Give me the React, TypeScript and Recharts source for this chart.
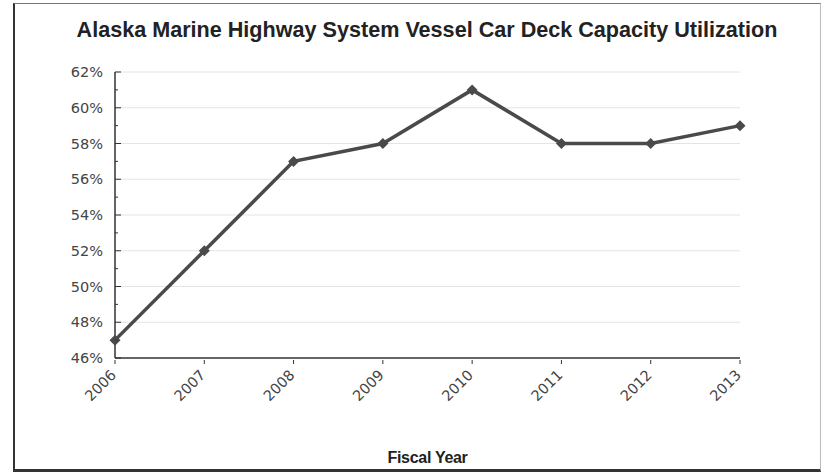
import { LineChart, Line, XAxis, YAxis, CartesianGrid, ReferenceLine } from 'recharts'

const years = ['2006', '2007', '2008', '2009', '2010', '2011', '2012', '2013']
const utilization = [47, 52, 57, 58, 61, 58, 58, 59]
const yTicks = [46, 47, 48, 49, 50, 51, 52, 53, 54, 55, 56, 57, 58, 59, 60, 61, 62]
const gridValues = [48, 50, 52, 54, 56, 58, 60, 62]

const data = years.map((year, i) => ({ year, value: utilization[i] }))

const tickFont = 'DejaVu Sans, Verdana, sans-serif'

const YTick = (props: any) => {
  const { x, y, payload } = props
  const major = payload.value % 2 === 0
  return (
    <g>
      <line x1={x} x2={x + (major ? 6 : 3)} y1={y} y2={y} stroke="#333" strokeWidth={1} />
      {major && (
        <text x={x - 12} y={y} dy={5} textAnchor="end" fontSize={14.5} fill="#444" fontFamily={tickFont}>
          {payload.value}%
        </text>
      )}
    </g>
  )
}

const XTick = (props: any) => {
  const { x, y, payload } = props
  return (
    <g>
      <line x1={x} x2={x} y1={y} y2={y + 4} stroke="#333" strokeWidth={1} />
      <text
        x={x + 2}
        y={y + 16}
        textAnchor="end"
        fontSize={14.5}
        fill="#444"
        fontFamily={tickFont}
        transform={`rotate(-45, ${x + 2}, ${y + 16})`}
      >
        {payload.value}
      </text>
    </g>
  )
}

const Diamond = (props: any) => {
  const { cx, cy } = props
  if (cx == null || cy == null) return null
  const r = 5.5
  return <polygon points={`${cx},${cy - r} ${cx + r},${cy} ${cx},${cy + r} ${cx - r},${cy}`} fill="#4a4a4a" />
}

export default function App() {
  return (
    <div style={{ position: 'fixed', left: 0, top: 0, width: 825, height: 473, background: '#fff' }}>
      <div
        style={{
          position: 'absolute',
          left: 13,
          top: 3,
          width: 805,
          height: 465,
          borderLeft: '2px solid #333',
          borderTop: '1px solid #777',
          borderRight: '1px solid #bbb',
          borderBottom: '3px solid #333',
        }}
      />
      <div
        style={{
          position: 'absolute',
          left: 0,
          top: 17,
          width: 854,
          textAlign: 'center',
          fontFamily: 'Liberation Sans, Arial, sans-serif',
          fontWeight: 'bold',
          fontSize: 21.6,
          color: '#222',
          whiteSpace: 'nowrap',
        }}
      >
        Alaska Marine Highway System Vessel Car Deck Capacity Utilization
      </div>
      <LineChart width={825} height={473} data={data} margin={{ top: 72, right: 85, left: 55, bottom: 5 }}>
        <CartesianGrid horizontal={false} vertical={false} />
        {gridValues.map((v) => (
          <ReferenceLine key={v} y={v} stroke="#e4e4e4" strokeWidth={1} />
        ))}
        <XAxis
          dataKey="year"
          height={110}
          tickSize={0}
          tickLine={false}
          tick={<XTick />}
          interval={0}
          axisLine={{ stroke: '#333', strokeWidth: 1.5 }}
          label={{
            value: 'Fiscal Year',
            position: 'insideBottom',
            offset: 5,
            fontSize: 16,
            fontWeight: 'bold',
            fill: '#222',
            letterSpacing: -0.3,
            fontFamily: 'Liberation Sans, Arial, sans-serif',
          }}
        />
        <YAxis
          width={60}
          domain={[46, 62]}
          ticks={yTicks}
          interval={0}
          tickSize={0}
          tickMargin={0}
          tickLine={false}
          tick={<YTick />}
          axisLine={{ stroke: '#333', strokeWidth: 1.5 }}
        />
        <Line
          type="linear"
          dataKey="value"
          stroke="#4a4a4a"
          strokeWidth={3.5}
          dot={<Diamond />}
          activeDot={false}
          isAnimationActive={false}
        />
      </LineChart>
    </div>
  )
}
